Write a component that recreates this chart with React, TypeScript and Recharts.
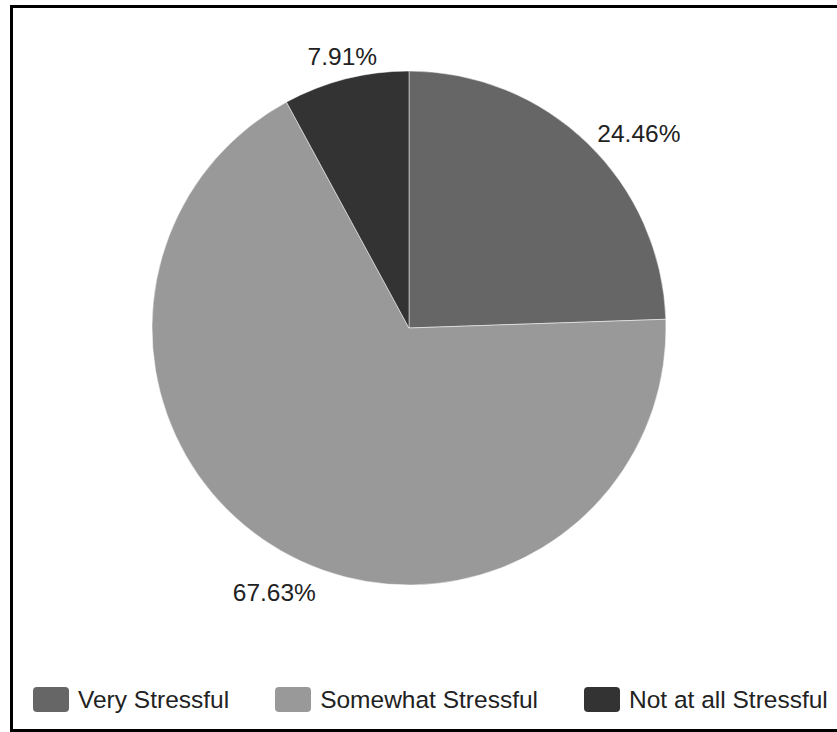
import React from "react";
import { PieChart, Pie, Cell, Legend } from "recharts";

// Survey answers and their share of responses (%)
const categories = ["Very Stressful", "Somewhat Stressful", "Not at all Stressful"];
const shares = [24.46, 67.63, 7.91];
const sliceColors = ["#666666", "#999999", "#333333"];

const data = categories.map((name, i) => ({ name, value: shares[i] }));

const FONT = "'Liberation Sans', Arial, Helvetica, sans-serif";
const RAD = Math.PI / 180;

// Percentage label placed just outside the slice, pushed away from the pie
function renderLabel(props: any) {
  const { cx, cy, midAngle, outerRadius, value } = props;
  const c = Math.cos(-midAngle * RAD);
  const s = Math.sin(-midAngle * RAD);
  const r = outerRadius + 14;
  const x = cx + r * c;
  // labels under the pie drop a little lower
  const y = cy + r * s + (s > 0 ? 20 : 0);
  let anchor: "start" | "end" | "middle" = "middle";
  if (c > 0.5) anchor = "start";
  else if (c < -0.5) anchor = "end";
  let baseline: any = "central";
  if (anchor === "middle") baseline = s > 0 ? "hanging" : "auto";
  return (
    <text
      x={x}
      y={y}
      textAnchor={anchor}
      dominantBaseline={baseline}
      fill="#222222"
      fontSize={24.5}
      fontFamily={FONT}
    >
      {`${Number(value).toFixed(2)}%`}
    </text>
  );
}

// Legend keeps the same order as the slices
function LegendContent() {
  return (
    <div style={{ display: "flex", alignItems: "center", fontFamily: FONT }}>
      {categories.map((name, i) => (
        <div
          key={name}
          style={{ display: "flex", alignItems: "center", marginLeft: i === 0 ? 0 : 46 }}
        >
          <div
            style={{
              width: 36,
              height: 25,
              borderRadius: 4,
              background: sliceColors[i],
              marginRight: 9,
            }}
          />
          <span style={{ fontSize: 24.5, color: "#222222", lineHeight: "25px", whiteSpace: "nowrap" }}>
            {name}
          </span>
        </div>
      ))}
    </div>
  );
}

export default function App() {
  return (
    <div
      style={{
        position: "fixed",
        left: 0,
        top: 0,
        width: 837,
        height: 732,
        overflow: "hidden",
        background: "#ffffff",
      }}
    >
      <div
        style={{
          position: "absolute",
          left: 10,
          top: 5,
          width: 860,
          height: 721,
          border: "3px solid #000000",
        }}
      />
      <div style={{ position: "absolute", left: 0, top: 0 }}>
        <PieChart width={837} height={732} margin={{ top: 0, right: 0, bottom: 0, left: 0 }}>
          <Pie
            data={data}
            dataKey="value"
            nameKey="name"
            cx={409}
            cy={328}
            outerRadius={257}
            startAngle={90}
            endAngle={-270}
            stroke="#ffffff"
            strokeWidth={0.5}
            label={renderLabel}
            labelLine={false}
            isAnimationActive={false}
          >
            {data.map((d, i) => (
              <Cell key={d.name} fill={sliceColors[i]} />
            ))}
          </Pie>
          <Legend
            verticalAlign="bottom"
            align="left"
            content={<LegendContent />}
            wrapperStyle={{ top: 687, bottom: "auto", left: 33, width: "auto" }}
          />
        </PieChart>
      </div>
    </div>
  );
}
